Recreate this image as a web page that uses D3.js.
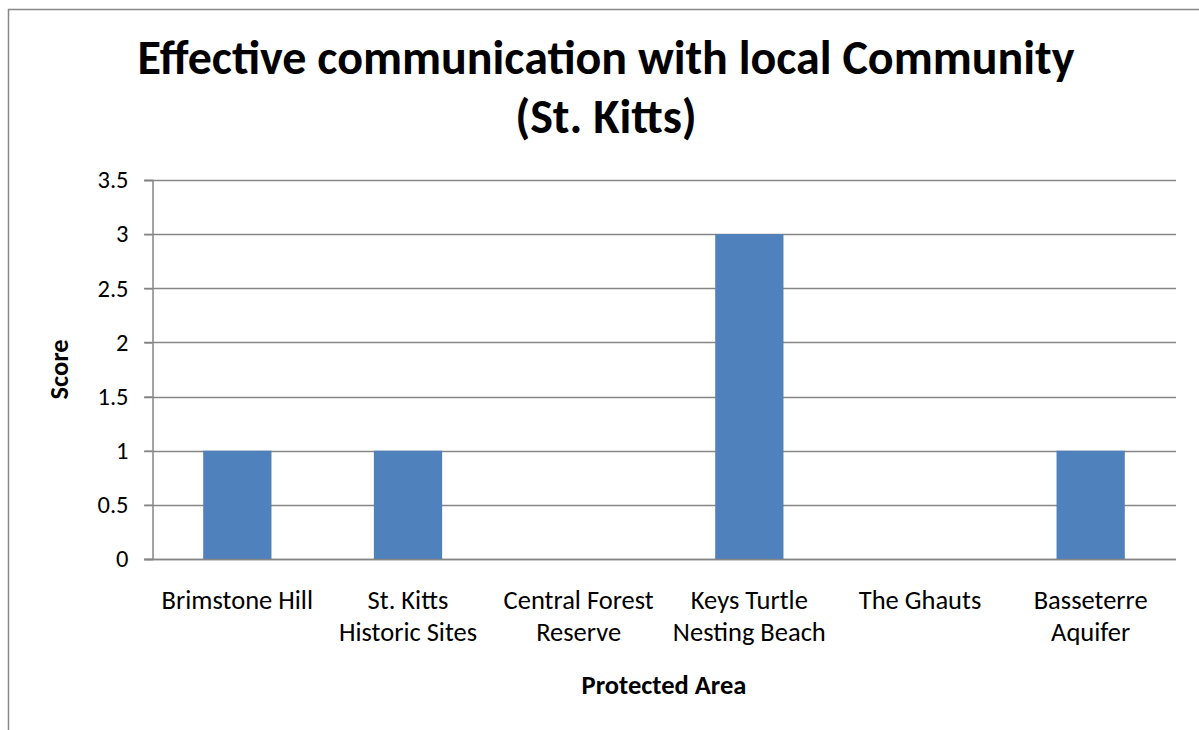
<!DOCTYPE html>
<html><head><meta charset="utf-8">
<script src="https://cdn.jsdelivr.net/npm/d3@7"></script>
<style>body{margin:0;background:#fff;} svg{display:block;}</style>
</head><body>
<svg id="c" width="1199" height="730"></svg>
<script>
const categories = ["Brimstone Hill","St. Kitts Historic Sites","Central Forest Reserve","Keys Turtle Nesting Beach","The Ghauts","Basseterre Aquifer"];
const categoryLines = [["Brimstone Hill"],["St. Kitts","Historic Sites"],["Central Forest","Reserve"],["Keys Turtle","Nesting Beach"],["The Ghauts"],["Basseterre","Aquifer"]];
const values = [1,1,0,3,0,1];
const yTicks = [0,0.5,1,1.5,2,2.5,3,3.5];
const titleLines = ["Effective communication with local Community","(St. Kitts)"];
const yTitle = "Score";
const xTitle = "Protected Area";

const FONT = "Carlito, Lato, 'Open Sans', sans-serif";
const svg = d3.select("#c");
const L=152,R=1176,T=180,B=559;
const x = d3.scaleBand().domain(categories).range([L,R]).paddingInner(0.6).paddingOuter(0.3);
const y = d3.scaleLinear().domain([0,3.5]).range([B,T]);

// chart border
svg.append("rect").attr("x",8.5).attr("y",9.5).attr("width",1240).attr("height",760)
  .attr("fill","none").attr("stroke","#898989").attr("stroke-width",1.5);

// gridlines
svg.append("g").selectAll("line").data(yTicks).join("line")
  .attr("x1",L-8).attr("x2",R).attr("y1",d=>Math.round(y(d))+0.5).attr("y2",d=>Math.round(y(d))+0.5)
  .attr("stroke","#868686").attr("stroke-width",1.5);

// bars
svg.append("g").selectAll("rect").data(values).join("rect")
  .attr("x",(d,i)=>x(categories[i])).attr("width",x.bandwidth())
  .attr("y",d=>y(d)).attr("height",d=>B-y(d)).attr("fill","#4F81BD");

// y axis
const ya = svg.append("g").attr("transform",`translate(${L+0.5},0)`)
  .call(d3.axisLeft(y).tickValues(yTicks).tickSize(8).tickPadding(16).tickFormat(d3.format("")));
ya.selectAll("path,line").attr("stroke","#868686").attr("stroke-width",1.5);
ya.selectAll("text").attr("font-family",FONT).attr("font-size",24.5).attr("fill","#000");

// x axis line
svg.append("line").attr("x1",L-8).attr("x2",R).attr("y1",B+0.5).attr("y2",B+0.5).attr("stroke","#868686").attr("stroke-width",1.5);

// category labels
const cl = svg.append("g").selectAll("text").data(categories).join("text")
  .attr("x",d=>x(d)+x.bandwidth()/2).attr("y",609)
  .attr("text-anchor","middle").attr("font-family",FONT).attr("font-size",26.5).attr("fill","#000");
cl.each(function(d,i){
  const t=d3.select(this);
  categoryLines[i].forEach((s,j)=>t.append("tspan").attr("x",x(d)+x.bandwidth()/2).attr("dy",j?32:0).text(s));
});

// title
const tt = svg.append("text").attr("text-anchor","middle").attr("font-family",FONT)
  .attr("font-weight","bold").attr("font-size",48).attr("fill","#000");
titleLines.forEach((s,j)=>tt.append("tspan").attr("x",606).attr("y",j?133:74).text(s));

// axis titles
svg.append("text").attr("transform",`translate(68,${(T+B)/2}) rotate(-90)`).attr("text-anchor","middle")
  .attr("font-family",FONT).attr("font-weight","bold").attr("font-size",26.5).text(yTitle);
svg.append("text").attr("x",(L+R)/2).attr("y",694).attr("text-anchor","middle")
  .attr("font-family",FONT).attr("font-weight","bold").attr("font-size",26.5).text(xTitle);
</script>
</body></html>
